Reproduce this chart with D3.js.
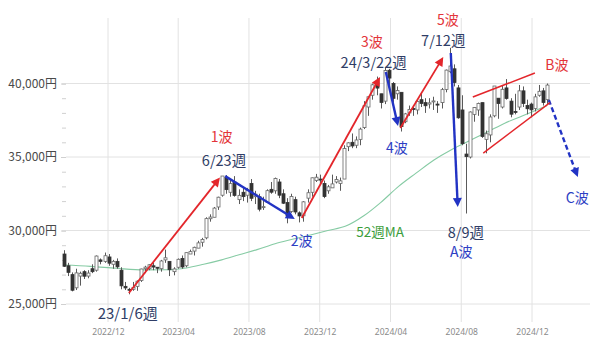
<!DOCTYPE html>
<html><head><meta charset="utf-8">
<script src="https://cdn.jsdelivr.net/npm/d3@7"></script>
<style>
body{margin:0;background:#fff}
svg{display:block}
text{font-family:"Noto Sans CJK JP","Noto Sans",sans-serif}
</style>
</head><body>
<svg id="chart" width="600" height="338"></svg>
<script>
// ---------- data (weekly candles) ----------
const weekEnds = [
"2022-09-16","2022-09-23","2022-09-30","2022-10-07","2022-10-14","2022-10-21","2022-10-28","2022-11-04","2022-11-11","2022-11-18","2022-11-25","2022-12-02","2022-12-09","2022-12-16","2022-12-23","2022-12-30",
"2023-01-06","2023-01-13","2023-01-20","2023-01-27","2023-02-03","2023-02-10","2023-02-17","2023-02-24","2023-03-03","2023-03-10","2023-03-17","2023-03-24","2023-03-31","2023-04-07","2023-04-14","2023-04-21","2023-04-28","2023-05-05","2023-05-12","2023-05-19","2023-05-26","2023-06-02","2023-06-09","2023-06-16","2023-06-23","2023-06-30","2023-07-07","2023-07-14","2023-07-21","2023-07-28","2023-08-04","2023-08-11","2023-08-18","2023-08-25","2023-09-01","2023-09-08","2023-09-15","2023-09-22","2023-09-29","2023-10-06","2023-10-13","2023-10-20","2023-10-27","2023-11-03","2023-11-10","2023-11-17","2023-11-24","2023-12-01","2023-12-08","2023-12-15","2023-12-22","2023-12-29",
"2024-01-05","2024-01-12","2024-01-19","2024-01-26","2024-02-02","2024-02-09","2024-02-16","2024-02-23","2024-03-01","2024-03-08","2024-03-15","2024-03-22","2024-03-29","2024-04-05","2024-04-12","2024-04-19","2024-04-26","2024-05-03","2024-05-10","2024-05-17","2024-05-24","2024-05-31","2024-06-07","2024-06-14","2024-06-21","2024-06-28","2024-07-05","2024-07-12","2024-07-19","2024-07-26","2024-08-02","2024-08-09","2024-08-16","2024-08-23","2024-08-30","2024-09-06","2024-09-13","2024-09-20","2024-09-27","2024-10-04","2024-10-11","2024-10-18","2024-10-25","2024-11-01","2024-11-08","2024-11-15","2024-11-22","2024-11-29","2024-12-06","2024-12-13","2024-12-20","2024-12-27"];

const opens = [
28400,27600,27000,26100,26900,27200,26900,27400,27300,28000,27900,28200,27700,27900,27300,26200,
26000,26000,26200,26600,27400,27400,27600,27500,27400,28000,27900,27200,27500,28100,27600,28400,28600,28800,29200,29500,30800,30900,31600,32400,33600,32600,33300,32100,32600,32400,33200,32300,32300,31600,31900,32800,32700,33300,32500,31900,31300,32100,31200,31000,32200,32600,33400,33500,33200,32700,32900,33300,
33200,33500,35700,36000,35800,36200,37000,38400,39200,40100,39300,38800,40900,40000,39300,39400,37400,38000,38300,38200,38900,38700,38600,38800,38600,38700,39600,40800,41000,39700,38200,35200,35000,37900,38200,38700,36200,36500,37800,39000,38400,39700,38800,38100,38400,39500,38500,38600,38300,39200,39500,38900];

const highs = [
28660,27800,27150,27400,27200,27300,27300,27700,28300,28100,28500,28400,28000,28100,27500,26500,
26100,26500,26600,27400,27600,27700,27800,27500,28000,28700,27900,27500,28100,28300,28500,28700,28900,29300,29500,30900,31100,31600,32300,33700,33772,33500,33700,32800,32900,32900,33500,32700,32500,32300,32800,33300,33600,33500,32800,32200,32500,32300,31300,32000,32800,33600,33850,33800,33400,33100,33800,33700,
33600,35800,36000,36600,36400,37000,38800,39100,39990,40470,39300,41087,41000,40100,39800,39400,38000,38500,38500,38900,39400,39000,39000,39100,38800,39700,40950,42426,41300,39900,39200,35900,38100,38400,38700,38700,36800,37900,39800,39000,39900,40300,39000,39300,39900,39800,38900,38700,39300,39900,39700,40000];

const lows = [
27520,26900,25860,25950,26250,26700,26750,27100,27200,27700,27800,27600,27400,27400,26000,25950,
25660,25900,25900,26500,27100,27300,27300,27100,27200,27800,26900,26950,27400,27400,27500,28400,28300,28800,28900,29400,30600,30900,31400,32300,32500,32300,32300,31800,32000,31900,32000,31800,31300,31400,31900,32500,32500,32200,31800,30490,31200,31100,30550,30600,31900,32300,33300,33200,32200,32500,32900,33200,
32700,33500,35400,35600,35600,35800,36900,37800,38900,39200,38300,38600,39800,38700,38900,36733,37300,37800,37800,37900,38400,38000,38300,38200,38000,38300,39400,40700,39800,37600,35800,31156,34900,37400,37800,36300,35250,36000,37700,37600,38300,38900,37700,37900,38200,38400,37900,37700,38100,39100,38500,38600];

const closes = [
27567,27153,25937,27116,27090,26890,27105,27199,28263,27899,28283,27777,27901,27527,26235,26094,
25973,26119,26553,27382,27509,27670,27513,27453,27927,28143,27333,27385,28041,27518,28493,28564,28856,29157,29388,30808,30916,31524,32265,33706,32781,33189,32388,32391,32304,32759,32192,32473,31450,31624,32710,32606,33533,32402,31857,30994,32315,31259,30991,31950,32568,33585,33625,33431,32307,32970,33169,33464,
33377,35577,35963,35751,36158,36897,38487,39098,39910,39688,38707,40888,40369,38992,39523,37068,37934,38236,38229,38787,38646,38487,38683,38814,38596,39583,40912,41190,40063,37667,35909,35025,38062,38364,38647,36391,36581,37723,39829,38635,39605,38981,37913,38053,39500,38642,38283,38208,39091,39470,38701,39894];

// 52-week moving average
const maDates = ["2022-09-16","2022-11-01","2022-12-15","2023-02-01","2023-03-15","2023-04-15","2023-05-15","2023-06-15","2023-07-15","2023-08-15","2023-09-15","2023-10-15","2023-11-15","2023-12-15","2024-01-15","2024-02-15","2024-03-15","2024-04-15","2024-05-15","2024-06-15","2024-07-15","2024-08-15","2024-09-15","2024-10-15","2024-11-15","2024-12-15","2024-12-27"];
const maValues = [27650,27560,27430,27320,27330,27450,27700,28000,28350,28700,29100,29400,29700,30000,30300,31000,31900,33000,33900,34800,35500,36100,36700,37300,37800,38300,38500];

// axes
const yTickValues = [25000,30000,35000,40000];
const yTickLabels = ["25,000円","30,000円","35,000円","40,000円"];
const yMinorTicks = d3.range(25000, 40001, 1000);
const xTickLabels = ["2022/12","2023/04","2023/08","2023/12","2024/04","2024/08","2024/12"];

// wave annotations (data coordinates: [date, price])
const waveArrowNames = ["1波","2波","3波","4波","5波","A波","C波"];
const waveArrowFrom = [["2023-01-06",25750],["2023-06-21",33700],["2023-10-31",30850],["2024-03-24",40780],["2024-04-18",36970],["2024-07-14",42075],["2024-12-30",38880]];
const waveArrowTo   = [["2023-06-12",33600],["2023-10-19",30780],["2024-03-14",40440],["2024-04-14",37110],["2024-07-01",41800],["2024-07-26",31600],["2025-02-18",33640]];
const waveArrowKind = ["up","down","up","down","up","down","forecast"];

const channelFrom = [["2024-08-21",39080],["2024-09-08",35270]];
const channelTo   = [["2024-12-06",40710],["2025-01-01",38700]];

const labelTexts = ["1波","6/23週","2波","52週MA","3波","24/3/22週","4波","5波","7/12週","8/9週","A波","B波","C波","23/1/6週"];
const labelAt = [["2023-06-15",36430],["2023-06-19",34800],["2023-10-31",29350],["2024-03-14",29970],["2024-02-29",42890],["2024-03-03",41530],["2024-04-12",35680],["2024-07-09",44390],["2024-07-01",42960],["2024-08-09",29900],["2024-08-01",28610],["2025-01-13",41330],["2025-02-17",32280],["2023-01-04",24420]];
const labelKind = ["up","date","down","ma","up","date","down","up","date","date","down","up","down","date"];

// ---------- drawing ----------
const parse = d3.timeParse("%Y-%m-%d");
const parseMonth = d3.timeParse("%Y/%m");
const svg = d3.select("#chart");

const x = d3.scaleTime().domain([parse("2022-12-01"), parse("2024-12-01")]).range([108, 532]);
const y = d3.scaleLinear().domain([25000, 40000]).range([304, 83.5]);

const gridColor = "#e2e2e2";
const xTickDates = xTickLabels.map(parseMonth);

// grid
svg.append("g").selectAll("line").data(xTickDates).join("line")
  .attr("x1", d => x(d)).attr("x2", d => x(d)).attr("y1", 18).attr("y2", 322)
  .attr("stroke", gridColor).attr("stroke-width", 1);
svg.append("g").selectAll("line").data(yTickValues).join("line")
  .attr("x1", 66).attr("x2", 590).attr("y1", d => y(d)).attr("y2", d => y(d))
  .attr("stroke", gridColor).attr("stroke-width", 1);

// y axis (minor ticks + labels)
const yMinor = svg.append("g").attr("transform", "translate(66,0)")
  .call(d3.axisLeft(y).tickValues(yMinorTicks).tickSize(4).tickFormat(""));
yMinor.select(".domain").remove();
yMinor.selectAll("line").attr("stroke", "#d0d0d0");
const yMajor = svg.append("g").attr("transform", "translate(66,0)")
  .call(d3.axisLeft(y).tickValues(yTickValues).tickSize(5).tickPadding(4)
    .tickFormat(d => yTickLabels[yTickValues.indexOf(d)]));
yMajor.select(".domain").remove();
yMajor.selectAll("line").attr("stroke", "#d0d0d0");
yMajor.selectAll("text").attr("fill", "#4a4a4a").style("font-size", "12px")
  .style("font-family", '"Noto Sans CJK JP","Noto Sans",sans-serif');

// x axis labels
const xAxis = svg.append("g").attr("transform", "translate(0,323)")
  .call(d3.axisBottom(x).tickValues(xTickDates).tickSize(0).tickPadding(6)
    .tickFormat((d, i) => xTickLabels[i]));
xAxis.select(".domain").remove();
xAxis.selectAll("text").attr("fill", "#8a8a8a").style("font-size", "8.5px")
  .style("font-family", '"Noto Sans","DejaVu Sans",sans-serif');

// moving average
const maData = maDates.map((d, i) => [parse(d), maValues[i]]);
svg.append("path").datum(maData)
  .attr("d", d3.line().x(d => x(d[0])).y(d => y(d[1])).curve(d3.curveMonotoneX))
  .attr("fill", "none").attr("stroke", "#86cba4").attr("stroke-width", 1.1);

// candles
const candles = weekEnds.map((d, i) => ({
  date: parse(d), o: opens[i], h: highs[i], l: lows[i], c: closes[i]
}));
const bw = 3;
const cg = svg.append("g");
cg.selectAll("line.wick").data(candles).join("line").attr("class", "wick")
  .attr("x1", d => Math.round(x(d.date)) + 0.5).attr("x2", d => Math.round(x(d.date)) + 0.5)
  .attr("y1", d => y(d.h)).attr("y2", d => y(d.l))
  .attr("stroke", "#5a5a5a").attr("stroke-width", 1);
cg.selectAll("rect.body").data(candles).join("rect").attr("class", "body")
  .attr("x", d => Math.round(x(d.date)) + 0.5 - bw / 2)
  .attr("y", d => y(Math.max(d.o, d.c)))
  .attr("width", bw)
  .attr("height", d => Math.max(1, Math.abs(y(d.o) - y(d.c))))
  .attr("fill", d => d.c >= d.o ? "#ffffff" : "#333333")
  .attr("stroke", d => d.c >= d.o ? "#666666" : "#333333")
  .attr("stroke-width", 0.8);

// arrows
const colors = { up: "#e3262b", down: "#2233c4", forecast: "#2233c4" };
function drawArrow(p0, p1, color, width, dashed, headLen, headW) {
  const x0 = x(parse(p0[0])), y0 = y(p0[1]);
  const x1 = x(parse(p1[0])), y1 = y(p1[1]);
  const dx = x1 - x0, dy = y1 - y0, len = Math.hypot(dx, dy);
  const ux = dx / len, uy = dy / len;
  const bx = x1 - ux * headLen, by = y1 - uy * headLen;
  svg.append("line").attr("x1", x0).attr("y1", y0).attr("x2", bx + ux).attr("y2", by + uy)
    .attr("stroke", color).attr("stroke-width", width)
    .attr("stroke-dasharray", dashed ? "5,3" : null);
  const px = -uy, py = ux;
  svg.append("path")
    .attr("d", `M${x1},${y1}L${bx + px * headW},${by + py * headW}L${bx - px * headW},${by - py * headW}Z`)
    .attr("fill", color);
}
waveArrowNames.forEach((n, i) => {
  const k = waveArrowKind[i];
  drawArrow(waveArrowFrom[i], waveArrowTo[i], colors[k], k === "up" ? 1.8 : 2.4, k === "forecast", 9, 4.5);
});

// B wave channel
channelFrom.forEach((p0, i) => {
  const p1 = channelTo[i];
  svg.append("line")
    .attr("x1", x(parse(p0[0]))).attr("y1", y(p0[1]))
    .attr("x2", x(parse(p1[0]))).attr("y2", y(p1[1]))
    .attr("stroke", "#e3262b").attr("stroke-width", 1.5);
});

// labels
const labelStyle = {
  up:   { fill: "#e3343a", size: 14 },
  down: { fill: "#2d3ec4", size: 14 },
  date: { fill: "#2f3d66", size: 14.5 },
  ma:   { fill: "#3c9e3c", size: 13.5 }
};
labelTexts.forEach((t, i) => {
  const st = labelStyle[labelKind[i]];
  svg.append("text")
    .attr("x", x(parse(labelAt[i][0]))).attr("y", y(labelAt[i][1]))
    .attr("text-anchor", "middle").attr("dominant-baseline", "central")
    .attr("fill", st.fill)
    .style("font-size", (t === "23/1/6週" ? 15 : st.size) + "px")
    .text(t);
});
</script>
</body></html>
